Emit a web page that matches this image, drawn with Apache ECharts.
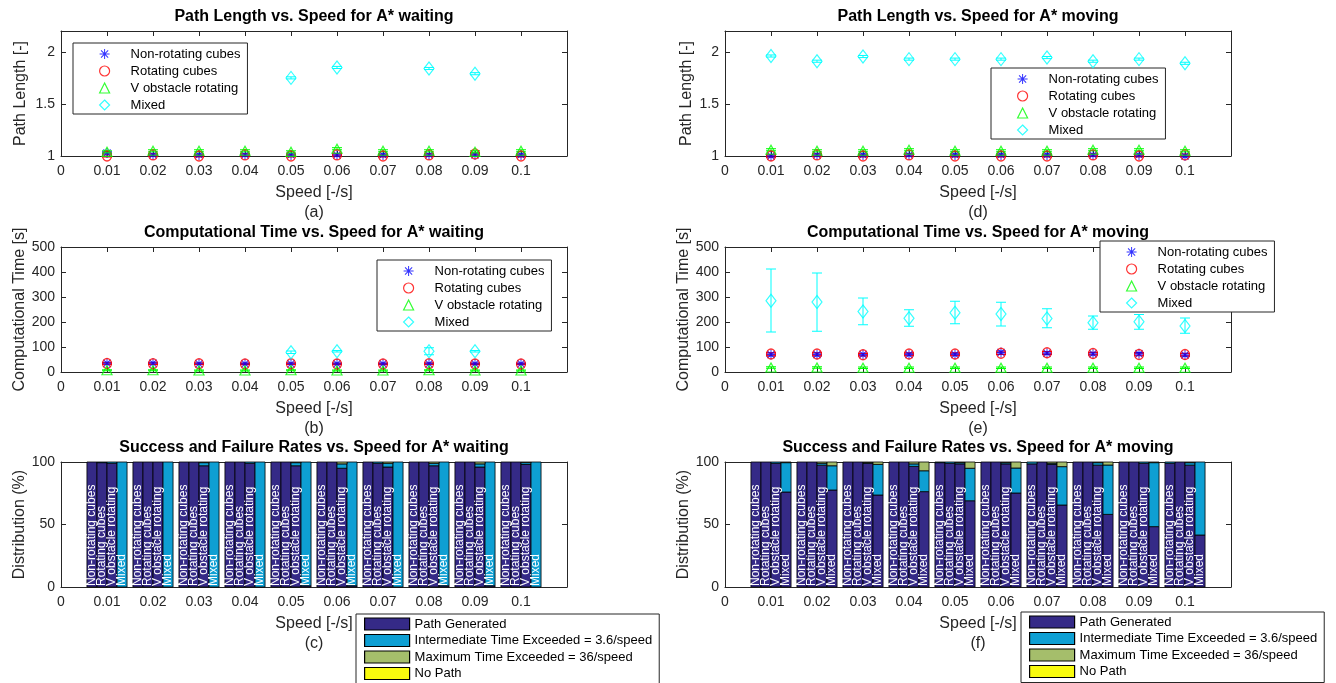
<!DOCTYPE html>
<html><head><meta charset="utf-8">
<script src="https://cdn.jsdelivr.net/npm/echarts@6/dist/echarts.min.js"></script>
<style>html,body{margin:0;padding:0;background:#fff}#c{width:1336px;height:683px}</style>
</head><body><div id="c"></div>
<script>
// ---------- categories / names ----------
const speeds = [0.01, 0.02, 0.03, 0.04, 0.05, 0.06, 0.07, 0.08, 0.09, 0.1];
const scenarios = ['Non-rotating cubes', 'Rotating cubes', 'V obstacle rotating', 'Mixed'];
const outcomes = ['Path Generated', 'Intermediate Time Exceeded = 3.6/speed', 'Maximum Time Exceeded = 36/speed', 'No Path'];
const panelTitles = [
  'Path Length vs. Speed for A* waiting',
  'Computational Time vs. Speed for A* waiting',
  'Success and Failure Rates vs. Speed for A* waiting',
  'Path Length vs. Speed for A* moving',
  'Computational Time vs. Speed for A* moving',
  'Success and Failure Rates vs. Speed for A* moving'
];
const panelLetters = ['(a)', '(b)', '(c)', '(d)', '(e)', '(f)'];
const yNames = ['Path Length [-]', 'Computational Time [s]', 'Distribution (%)'];
const xName = 'Speed [-/s]';
const xRange = [0, 0.11, 0.01];
const yRanges = [[1, 2.2, 0.5], [0, 500, 100], [0, 100, 50]];

// ---------- (a) path length, A* waiting ----------
const plWaitNonRot = [1.03, 1.01, 1.01, 1.01, 1.01, 1.01, 1.01, 1.01, 1.01, 1.01];
const plWaitRot    = [1.00, 1.01, 1.00, 1.01, 1.00, 1.01, 1.00, 1.01, 1.02, 1.00];
const plWaitV      = [1.04, 1.05, 1.05, 1.05, 1.04, 1.07, 1.05, 1.05, 1.04, 1.05];
const plWaitMixed  = [null, null, null, null, 1.75, 1.85, null, 1.84, 1.79, null];
const plWaitErr = [
  [0.01, 0.01, 0.01, 0.01, 0.01, 0.01, 0.01, 0.01, 0.01, 0.01],
  [0.01, 0.01, 0.01, 0.01, 0.01, 0.01, 0.01, 0.01, 0.01, 0.01],
  [0.01, 0.01, 0.01, 0.01, 0.01, 0.01, 0.01, 0.01, 0.01, 0.01],
  [0, 0, 0, 0, 0.01, 0.01, 0, 0.01, 0.01, 0]
];
// ---------- (b) computational time, A* waiting ----------
const ctWaitNonRot = [35, 35, 33, 33, 33, 33, 33, 33, 33, 33];
const ctWaitRot    = [34, 33, 33, 32, 33, 32, 32, 33, 32, 32];
const ctWaitV      = [7, 7, 6, 6, 7, 6, 6, 7, 6, 6];
const ctWaitMixed  = [null, null, null, null, 79, 83, null, 83, 83, null];
const ctWaitErr = [
  [4, 4, 3, 3, 3, 3, 3, 3, 3, 3],
  [3, 3, 3, 3, 3, 3, 3, 3, 3, 3],
  [2, 2, 2, 2, 2, 2, 2, 2, 2, 2],
  [0, 0, 0, 0, 5, 3, 0, 14, 3, 0]
];
// ---------- (d) path length, A* moving ----------
const plMoveNonRot = [1.00, 1.01, 1.01, 1.01, 1.01, 1.01, 1.01, 1.01, 1.01, 1.00];
const plMoveRot    = [1.00, 1.01, 1.00, 1.01, 1.00, 1.00, 1.00, 1.01, 1.00, 1.01];
const plMoveV      = [1.06, 1.05, 1.05, 1.06, 1.05, 1.05, 1.05, 1.06, 1.06, 1.05];
const plMoveMixed  = [1.96, 1.91, 1.955, 1.93, 1.93, 1.93, 1.945, 1.91, 1.93, 1.89];
const plMoveErr = [
  [0.01, 0.01, 0.01, 0.01, 0.01, 0.01, 0.01, 0.01, 0.01, 0.01],
  [0.01, 0.01, 0.01, 0.01, 0.01, 0.01, 0.01, 0.01, 0.01, 0.01],
  [0.01, 0.01, 0.01, 0.01, 0.01, 0.01, 0.01, 0.01, 0.01, 0.01],
  [0.01, 0.01, 0.01, 0.01, 0.01, 0.01, 0.01, 0.01, 0.01, 0.01]
];
// ---------- (e) computational time, A* moving ----------
const ctMoveNonRot = [70, 70, 70, 70, 70, 78, 75, 73, 73, 68];
const ctMoveRot    = [72, 72, 69, 72, 72, 75, 77, 74, 70, 70];
const ctMoveV      = [18, 18, 17, 17, 17, 17, 17, 17, 17, 17];
const ctMoveMixed  = [285, 280, 242, 215, 237, 232, 214, 197, 201, 184];
const ctMoveMixedLow  = [160, 163, 189, 183, 193, 184, 177, 171, 171, 155];
const ctMoveMixedHigh = [412, 396, 296, 249, 283, 279, 253, 224, 230, 216];
const ctMoveErr = [
  [6, 6, 5, 5, 5, 6, 5, 5, 5, 5],
  [5, 5, 5, 5, 5, 5, 5, 5, 5, 5],
  [3, 3, 3, 3, 3, 3, 3, 3, 3, 3]
];
// ---------- (c) outcome distribution (%), A* waiting: [scenario][speed] ----------
const wPathGenerated = [
  [100, 100, 100, 100, 100, 100, 100, 100, 100, 100],
  [99.5, 100, 100, 100, 100, 100, 99, 100, 100, 100],
  [99, 100, 97, 99, 97, 95, 96, 97, 96, 98],
  [0, 0, 0, 0, 1, 1, 0, 1, 1, 0]
];
const wIntermediate = [
  [0, 0, 0, 0, 0, 0, 0, 0, 0, 0],
  [0.5, 0, 0, 0, 0, 0, 1, 0, 0, 0],
  [1, 0, 2.5, 1, 2.5, 3.5, 3, 2, 2.5, 1.5],
  [100, 100, 100, 100, 99, 99, 100, 99, 99, 100]
];
const wMaximum = [
  [0, 0, 0, 0, 0, 0, 0, 0, 0, 0],
  [0, 0, 0, 0, 0, 0, 0, 0, 0, 0],
  [0, 0, 0.5, 0, 0.5, 1.5, 1, 1, 1.5, 0.5],
  [0, 0, 0, 0, 0, 0, 0, 0, 0, 0]
];
const wNoPath = [
  [0, 0, 0, 0, 0, 0, 0, 0, 0, 0],
  [0, 0, 0, 0, 0, 0, 0, 0, 0, 0],
  [0, 0, 0, 0, 0, 0, 0, 0, 0, 0],
  [0, 0, 0, 0, 0, 0, 0, 0, 0, 0]
];
// ---------- (f) outcome distribution (%), A* moving ----------
const mPathGenerated = [
  [100, 100, 100, 100, 99.5, 100, 98.5, 100, 100, 99],
  [100, 100, 100, 100, 99, 100, 100, 100, 100, 100],
  [99, 97.5, 99, 96.5, 98.5, 98.5, 98, 97.5, 99, 97.5],
  [76, 77.6, 73.6, 76.3, 69, 75.2, 65.6, 58.1, 48.3, 41.6]
];
const mIntermediate = [
  [0, 0, 0, 0, 0.5, 0, 1.5, 0, 0, 1],
  [0, 0, 0, 0, 1, 0, 0, 0, 0, 0],
  [1, 1.5, 0.5, 2, 1, 1, 1, 2, 1, 2],
  [23.5, 19.4, 24.5, 16.7, 26, 20, 30.7, 39.5, 51.2, 58.4]
];
const mMaximum = [
  [0, 0, 0, 0, 0, 0, 0, 0, 0, 0],
  [0, 0, 0, 0, 0, 0, 0, 0, 0, 0],
  [0, 1, 0.5, 1.5, 0.5, 0.5, 1, 0.5, 0, 0.5],
  [0.5, 3, 1.9, 7, 5, 4.8, 3.7, 2.4, 0.5, 0]
];
const mNoPath = [
  [0, 0, 0, 0, 0, 0, 0, 0, 0, 0],
  [0, 0, 0, 0, 0, 0, 0, 0, 0, 0],
  [0, 0, 0, 0, 0, 0, 0, 0, 0, 0],
  [0, 0, 0, 0, 0, 0, 0, 0, 0, 0]
];

// ---------- styles / layout ----------
const FONT = '"Liberation Sans", Arial, Helvetica, sans-serif';
const AX = '#262626';
const scenarioColors = ['#0000ff', '#ff0000', '#00ff00', '#00ffff'];
const outcomeColors = ['#352a87', '#0e9fd3', '#a5be6b', '#f9fb0e'];
const ASTERISK = 'path://M9,0L11,0L11,20L9,20Z M0,9L20,9L20,11L0,11Z M2.2,3.6L3.6,2.2L17.8,16.4L16.4,17.8Z M16.4,2.2L17.8,3.6L3.6,17.8L2.2,16.4Z';
const scenarioSymbols = [ASTERISK, 'circle', 'triangle', 'diamond'];
const scenarioSizes = [10, [9, 10], [10, 9], [10, 13]];
const colLeft = [61, 725];
const rowTop = [31, 247, 462];
const gridW = 506, gridH = 125;
const barWidthData = 0.00218;

function markerStyle(s) {
  if (s === 0) return { color: scenarioColors[0] };
  return { color: 'rgba(0,0,0,0)', borderColor: scenarioColors[s], borderWidth: 1.2 };
}

const grids = [], xAxes = [], yAxes = [], series = [], legends = [], graphics = [];

for (let p = 0; p < 6; p++) {
  const col = p < 3 ? 0 : 1, row = p % 3;
  grids.push({ left: colLeft[col], top: rowTop[row], width: gridW, height: gridH, outerBoundsMode: 'none', containLabel: false, show: false });
  const lineSt = { show: true, onZero: false, lineStyle: { color: AX, width: 1 } };
  const tickSt = { show: true, inside: true, length: 5, lineStyle: { color: AX, width: 1 } };
  const yr = yRanges[row];
  xAxes.push({
    type: 'value', gridIndex: p, position: 'bottom', min: xRange[0], max: xRange[1], interval: xRange[2],
    axisLine: lineSt, axisTick: tickSt, splitLine: { show: false },
    axisLabel: { color: AX, fontSize: 14, fontFamily: FONT, margin: 8, showMaxLabel: false },
    name: xName, nameLocation: 'middle', nameGap: 29,
    nameTextStyle: { color: AX, fontSize: 16, fontFamily: FONT }
  });
  xAxes.push({
    type: 'value', gridIndex: p, position: 'top', min: xRange[0], max: xRange[1], interval: xRange[2],
    axisLine: lineSt, axisTick: tickSt, splitLine: { show: false }, axisLabel: { show: false }
  });
  yAxes.push({
    type: 'value', gridIndex: p, position: 'left', min: yr[0], max: yr[1], interval: yr[2],
    axisLine: lineSt, axisTick: tickSt, splitLine: { show: false },
    axisLabel: { color: AX, fontSize: 14, fontFamily: FONT, margin: 6, showMaxLabel: row !== 0 },
    name: yNames[row], nameLocation: 'middle', nameGap: col === 0 ? 32 : 30,
    nameTextStyle: { color: AX, fontSize: 16, fontFamily: FONT }
  });
  yAxes.push({
    type: 'value', gridIndex: p, position: 'right', min: yr[0], max: yr[1], interval: yr[2],
    axisLine: lineSt, axisTick: tickSt, splitLine: { show: false }, axisLabel: { show: false }
  });
  const cx = colLeft[col] + gridW / 2;
  graphics.push({ type: 'text', x: cx, y: rowTop[row] - 14, z: 100,
    style: { text: panelTitles[p], fill: '#000', font: 'bold 16px ' + FONT, align: 'center', verticalAlign: 'middle' } });
  graphics.push({ type: 'text', x: cx, y: rowTop[row] + 182, z: 100,
    style: { text: panelLetters[p], fill: AX, font: '16px ' + FONT, align: 'center', verticalAlign: 'middle' } });
}

// ---------- scatter + error bar panels ----------
function errRender(color) {
  return function (params, api) {
    const x = api.value(0), lo = api.value(1), hi = api.value(2);
    const a = api.coord([x, lo]), b = api.coord([x, hi]);
    const hw = 5, st = { stroke: color, lineWidth: 1 };
    return { type: 'group', children: [
      { type: 'line', shape: { x1: a[0], y1: a[1], x2: b[0], y2: b[1] }, style: st },
      { type: 'line', shape: { x1: a[0] - hw, y1: a[1], x2: a[0] + hw, y2: a[1] }, style: st },
      { type: 'line', shape: { x1: b[0] - hw, y1: b[1], x2: b[0] + hw, y2: b[1] }, style: st }
    ] };
  };
}

function addScatterPanel(p, vals, lows, highs) {
  vals.forEach((arr, s) => {
    const pts = [], eb = [];
    speeds.forEach((x, k) => {
      if (arr[k] == null) return;
      pts.push([x, arr[k]]);
      eb.push([x, lows[s][k], highs[s][k]]);
    });
    series.push({
      type: 'custom', name: 'err' + p + '_' + s, xAxisIndex: p * 2, yAxisIndex: p * 2, z: 2 + s,
      silent: true, renderItem: errRender(scenarioColors[s]), encode: { x: 0, y: [1, 2] }, data: eb
    });
    series.push({
      type: 'scatter', name: scenarios[s], xAxisIndex: p * 2, yAxisIndex: p * 2, z: 3 + s,
      symbol: scenarioSymbols[s], symbolSize: scenarioSizes[s], symbolKeepAspect: false,
      itemStyle: markerStyle(s), emphasis: { disabled: true }, silent: true, data: pts
    });
  });
}
function lowsFrom(vals, errs) { return vals.map((a, s) => a.map((v, k) => v == null ? null : v - errs[s][k])); }
function highsFrom(vals, errs) { return vals.map((a, s) => a.map((v, k) => v == null ? null : v + errs[s][k])); }

const aVals = [plWaitNonRot, plWaitRot, plWaitV, plWaitMixed];
addScatterPanel(0, aVals, lowsFrom(aVals, plWaitErr), highsFrom(aVals, plWaitErr));
const bVals = [ctWaitNonRot, ctWaitRot, ctWaitV, ctWaitMixed];
addScatterPanel(1, bVals, lowsFrom(bVals, ctWaitErr), highsFrom(bVals, ctWaitErr));
const dVals = [plMoveNonRot, plMoveRot, plMoveV, plMoveMixed];
addScatterPanel(3, dVals, lowsFrom(dVals, plMoveErr), highsFrom(dVals, plMoveErr));
const eVals3 = [ctMoveNonRot, ctMoveRot, ctMoveV];
addScatterPanel(4, [ctMoveNonRot, ctMoveRot, ctMoveV, ctMoveMixed],
  lowsFrom(eVals3, ctMoveErr).concat([ctMoveMixedLow]),
  highsFrom(eVals3, ctMoveErr).concat([ctMoveMixedHigh]));

// ---------- stacked bar panels ----------
function barRender(color) {
  return function (params, api) {
    const x = api.value(0), s = api.value(1), b = api.value(2), t = api.value(3);
    if (!(t - b > 0)) return null;
    const w = api.size([barWidthData, 0])[0];
    const pb = api.coord([x, b]), pt = api.coord([x, t]);
    const left = pb[0] + (s - scenarios.length / 2) * w;
    return { type: 'rect', shape: { x: left, y: pt[1], width: w, height: pb[1] - pt[1] },
      style: { fill: color, stroke: '#000', lineWidth: 0.8 } };
  };
}
function labelRender(params, api) {
  const x = api.value(0), s = api.value(1);
  const w = api.size([barWidthData, 0])[0];
  const pb = api.coord([x, 0]);
  const cx = pb[0] + (s - scenarios.length / 2 + 0.5) * w;
  return { type: 'text', x: cx, y: pb[1] - 1, rotation: Math.PI / 2,
    style: { text: scenarios[s], fill: '#ffffff', font: '12px ' + FONT, align: 'left', verticalAlign: 'middle' } };
}
function addBarPanel(p, parts) {
  const cum = scenarios.map(() => speeds.map(() => 0));
  parts.forEach((part, o) => {
    const data = [];
    scenarios.forEach((n, s) => speeds.forEach((x, k) => {
      const b = cum[s][k], t = b + part[s][k];
      cum[s][k] = t;
      data.push([x, s, b, t]);
    }));
    series.push({
      type: 'custom', name: outcomes[o], xAxisIndex: p * 2, yAxisIndex: p * 2, z: 2, silent: true,
      itemStyle: { color: outcomeColors[o] }, renderItem: barRender(outcomeColors[o]),
      encode: { x: 0, y: [2, 3] }, data: data
    });
  });
  const lab = [];
  scenarios.forEach((n, s) => speeds.forEach(x => lab.push([x, s, 0])));
  series.push({
    type: 'custom', name: 'labels' + p, xAxisIndex: p * 2, yAxisIndex: p * 2, z: 5, silent: true,
    renderItem: labelRender, encode: { x: 0, y: 2 }, data: lab
  });
}
addBarPanel(2, [wPathGenerated, wIntermediate, wMaximum, wNoPath]);
addBarPanel(5, [mPathGenerated, mIntermediate, mMaximum, mNoPath]);

// ---------- legends ----------
const scatterLegendPos = [[0, 73, 43], [1, 377, 260], [3, 991, 68], [4, 1100, 241]];
scatterLegendPos.forEach(([p, l, t]) => {
  legends.push({
    orient: 'vertical', left: l, top: t, height: 100, selectedMode: false,
    itemWidth: 10, itemHeight: 10, itemGap: 3, padding: [4, 7, 2, 26],
    backgroundColor: '#ffffff', borderColor: AX, borderWidth: 1, borderRadius: 0,
    textStyle: { fontSize: 13, color: '#000', fontFamily: FONT, lineHeight: 14, padding: [0, 0, 0, 16] },
    data: scenarios.map((n, s) => ({ name: n, icon: scenarioSymbols[s], itemStyle: markerStyle(s) }))
  });
});
const barLegendPos = [[2, 356, 614], [5, 1021, 612]];
barLegendPos.forEach(([p, l, t]) => {
  legends.push({
    orient: 'vertical', left: l, top: t, height: 100, selectedMode: false,
    itemWidth: 45, itemHeight: 12, itemGap: 2.5, padding: [3, 7, 4, 8],
    backgroundColor: '#ffffff', borderColor: AX, borderWidth: 1, borderRadius: 0,
    textStyle: { fontSize: 13, color: '#000', fontFamily: FONT, lineHeight: 14 },
    data: outcomes.map((n, o) => ({ name: n, icon: 'rect',
      itemStyle: { color: outcomeColors[o], borderColor: '#000', borderWidth: 1.2 } }))
  });
});

const chart = echarts.init(document.getElementById('c'), null, { renderer: 'canvas', width: 1336, height: 683 });
chart.setOption({
  backgroundColor: '#ffffff',
  animation: false,
  textStyle: { fontFamily: FONT },
  grid: grids, xAxis: xAxes, yAxis: yAxes,
  legend: legends, series: series, graphic: graphics,
  tooltip: { show: false }
});
</script></body></html>
